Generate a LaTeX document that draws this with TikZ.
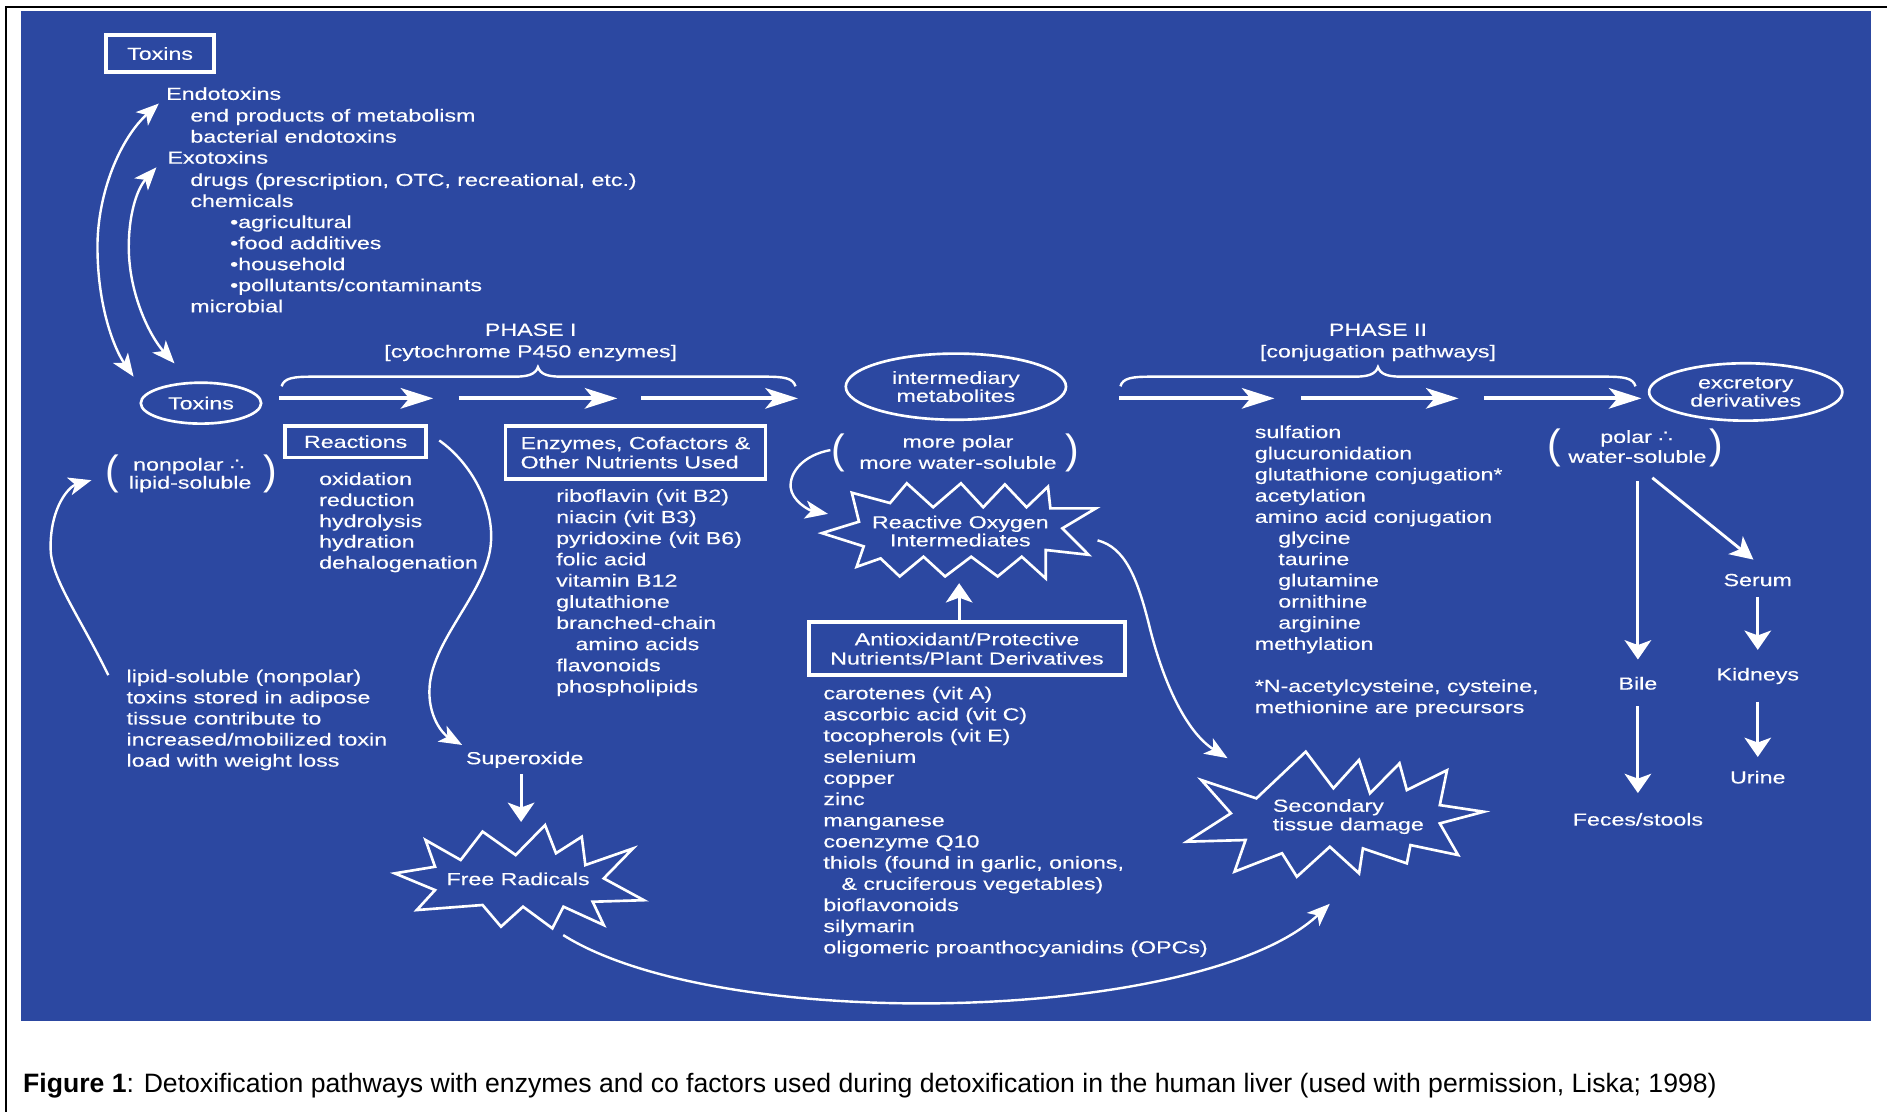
\documentclass[tikz,border=0pt]{standalone}
\usepackage{fontspec}
\setmainfont{Liberation Sans}
\newfontfamily\dg[FakeStretch=1.33,FakeBold=0.3]{Liberation Sans}
\newfontfamily\dgsym[FakeStretch=1.33]{DejaVu Sans}
\usetikzlibrary{arrows.meta,shapes.geometric}
\definecolor{bg}{RGB}{44,72,161}
\newcommand\mytl[4]{\node[lt] (#1) at (#2,#3) {#4};}
\newcommand\myct[4]{\node[ct] (#1) at (#2,#3) {#4};}
\begin{document}
\begin{tikzpicture}[x=1pt,y=-1pt,
  txt/.style={text=white, font=\dg\fontsize{14.5}{16}\selectfont, inner sep=0pt},
  lt/.style={txt, anchor=base west},
  ct/.style={txt, anchor=base},
  wbox/.style={draw=white, line width=3pt, inner sep=0pt, txt},
  well/.style={ellipse, draw=white, line width=2.2pt, inner sep=0pt, txt, align=center, font=\dg\fontsize{14.5}{15}\selectfont},
  harr/.style={draw=white, line width=3.4pt, -{Stealth[length=27pt,width=17pt,inset=7pt]}},
  varr/.style={draw=white, line width=2.6pt, -{Stealth[length=16pt,width=22pt,inset=4pt]}},
  darr/.style={draw=white, line width=2.4pt, -{Stealth[length=19pt,width=19pt,inset=5pt]}},
  carr/.style={draw=white, line width=2pt, -{Stealth[length=19pt,width=15pt,inset=5pt]}},
  dcarr/.style={draw=white, line width=2pt, {Stealth[length=19pt,width=15pt,inset=5pt]}-{Stealth[length=19pt,width=15pt,inset=5pt]}},
  bracestyle/.style={draw=white, line width=2pt},
  burst/.style={draw=white, line width=2.2pt, line join=miter},
  paren/.style={text=white, font=\fontsize{34}{34}\selectfont, inner sep=0pt},
]
\useasboundingbox (0,0) rectangle (1568,924);
\fill[white] (0,0) rectangle (1568,924);
\fill[bg] (17.5,9) rectangle (1555,848);
\draw[black, line width=2pt] (5,924) -- (5,6) -- (1568,6);

% ---------- Toxins box and list ----------
\node[wbox, minimum width=90pt, minimum height=31pt] (toxbox) at (133,44.5) {Toxins};
\mytl{endo}{138}{83}{Endotoxins}
\mytl{endoa}{158}{101}{end products of metabolism}
\mytl{endob}{158}{118.5}{bacterial endotoxins}
\mytl{exo}{139}{136}{Exotoxins}
\mytl{exoa}{158}{154.5}{drugs (prescription, OTC, recreational, etc.)}
\mytl{exob}{158}{172}{chemicals}
\mytl{exoc}{191}{189.5}{•agricultural}
\mytl{exod}{191}{207}{•food additives}
\mytl{exoe}{191}{224.5}{•household}
\mytl{exof}{191}{242}{•pollutants/contaminants}
\mytl{exog}{158}{259.5}{microbial}

% ---------- Toxins ellipse ----------
\node[well, minimum width=100pt, minimum height=34pt] (toxell) at (167,335) {Toxins};

% double arrows
\coordinate (oa1) at (132,86);
\coordinate (oa2) at (111,313);
\coordinate (ia1) at (130,139);
\coordinate (ia2) at (145,302);
\draw[dcarr] (oa1) .. controls (100,115) and (81,160) .. (81,205) .. controls (81,255) and (95,290) .. (oa2);
\draw[dcarr] (ia1) .. controls (113,158) and (107,180) .. (107,205) .. controls (107,245) and (125,280) .. (ia2);

% ---------- nonpolar ----------
\node[paren] (lpa) at (93.5,394) {(};
\node[paren] (rpa) at (224.5,394) {)};
\myct{np1}{157}{391}{nonpolar {\dgsym ∴}}
\myct{np2}{158}{406}{lipid-soluble}

\mytl{lip1}{105}{567}{lipid-soluble (nonpolar)}
\mytl{lip2}{105}{584.5}{toxins stored in adipose}
\mytl{lip3}{105}{602}{tissue contribute to}
\mytl{lip4}{105}{619.5}{increased/mobilized toxin}
\mytl{lip5}{105}{637}{load with weight loss}
\coordinate (lipS) at (90,561);
\coordinate (lipE) at (76,399);
\draw[carr] (lipS) .. controls (65,510) and (42,480) .. (42,455) .. controls (42,420) and (58,404) .. (lipE);

% ---------- PHASE I ----------
\myct{ph1}{441}{279}{PHASE I}
\myct{ph1b}{441}{297}{[cytochrome P450 enzymes]}
\draw[bracestyle] (234,321) .. controls (236,314) and (244,313) .. (259,313) -- (427,313) .. controls (439,313) and (445,311) .. (447,305) .. controls (449,311) and (455,313) .. (467,313) -- (636,313) .. controls (651,313) and (659,314) .. (661,321);
\coordinate (p1a) at (232,331); \coordinate (p1b) at (360,331);
\coordinate (p1c) at (381,331); \coordinate (p1d) at (513,331);
\coordinate (p1e) at (533,331); \coordinate (p1f) at (663,331);
\draw[harr] (p1a) -- (p1b);
\draw[harr] (p1c) -- (p1d);
\draw[harr] (p1e) -- (p1f);

% ---------- Reactions ----------
\node[wbox, minimum width=117pt, minimum height=26pt] (reactbox) at (295.5,367) {Reactions};
\mytl{r1}{265}{403}{oxidation}
\mytl{r2}{265}{420.5}{reduction}
\mytl{r3}{265}{438}{hydrolysis}
\mytl{r4}{265}{455}{hydration}
\mytl{r5}{265}{472.5}{dehalogenation}

% ---------- Enzymes ----------
\node[wbox, minimum width=216pt, minimum height=44pt, align=left] (enzbox) at (528,376) {Enzymes, Cofactors \&\\Other Nutrients Used};
\mytl{e1}{462}{417}{riboflavin (vit B2)}
\mytl{e2}{462}{434.6}{niacin (vit B3)}
\mytl{e3}{462}{452.2}{pyridoxine (vit B6)}
\mytl{e4}{462}{469.8}{folic acid}
\mytl{e5}{462}{487.4}{vitamin B12}
\mytl{e6}{462}{505}{glutathione}
\mytl{e7}{462}{522.6}{branched-chain}
\mytl{e8}{478}{540.2}{amino acids}
\mytl{e9}{462}{557.8}{flavonoids}
\mytl{e10}{462}{575.4}{phospholipids}

% Reactions -> Superoxide
\coordinate (rsS) at (365,366);
\coordinate (rsE) at (384,619);
\draw[carr] (rsS) .. controls (392,385) and (410,420) .. (408,450) .. controls (406,490) and (360,530) .. (357,570) .. controls (355,595) and (368,610) .. (rsE);
\myct{sup}{436}{635}{Superoxide}
\coordinate (supB) at (433,643);
\coordinate (frT) at (433,683);
\draw[varr] (supB) -- (frT);

% Free radicals burst
\draw[burst] (353.6,698) -- (382.8,714.6) -- (401,691) -- (428.5,710.5) -- (452.9,685.6) -- (462,709) -- (483.4,695.3) -- (486.4,718.8) -- (526,705) -- (501.7,729.9) -- (535,748) -- (492.5,749.3) -- (501.7,768.7) -- (468.2,753.4) -- (459,771.4) -- (434.6,753.4) -- (416.3,770) -- (401,752) -- (346.3,756.2) -- (361.5,739.6) -- (328,725.7) -- (361.5,720.2) -- cycle;
\myct{fr}{430.5}{735.5}{Free Radicals}

% ---------- intermediary metabolites ----------
\node[well, minimum width=183pt, minimum height=55pt] (interm) at (794.3,321.3) {intermediary\\metabolites};
\node[paren] (lpb) at (697,376) {(};
\node[paren] (rpb) at (891,376) {)};
\myct{mp1}{796}{372}{more polar}
\myct{mp2}{796}{389.5}{more water-soluble}
\coordinate (loopS) at (690,374);
\coordinate (loopE) at (688,427);
\draw[carr] (loopS) .. controls (668,378) and (656,392) .. (657,405) .. controls (658,416) and (672,424) .. (loopE);

% ROI burst
\draw[burst] (707.8,409.4) -- (739.6,418) -- (753.5,401.6) -- (775.4,421.5) -- (798.5,401.6) -- (817,421.5) -- (835,402.5) -- (853,421.5) -- (870.8,404.4) -- (872.8,422.4) -- (910.6,422.4) -- (882.8,439) -- (904.6,461) -- (868.9,457) -- (868.9,480.6) -- (849,462.6) -- (829,479) -- (807,462.6) -- (785.3,479) -- (767.4,462.6) -- (747.6,479) -- (731.7,464) -- (711.8,471) -- (717.7,454) -- (683,443) -- (713.8,433.5) -- cycle;
\myct{roi1}{798}{439}{Reactive Oxygen}
\myct{roi2}{798}{454}{Intermediates}

% Antioxidant box
\node[wbox, minimum width=263pt, minimum height=44pt, align=center] (antibox) at (803.5,539) {Antioxidant/Protective\\Nutrients/Plant Derivatives};
\coordinate (roiB) at (797,484.6);
\draw[varr] (antibox.north -| roiB) -- (roiB);
\mytl{a1}{684}{581}{carotenes (vit A)}
\mytl{a2}{684}{598.6}{ascorbic acid (vit C)}
\mytl{a3}{684}{616.2}{tocopherols (vit E)}
\mytl{a4}{684}{633.8}{selenium}
\mytl{a5}{684}{651.4}{copper}
\mytl{a6}{684}{669}{zinc}
\mytl{a7}{684}{686.6}{manganese}
\mytl{a8}{684}{704.2}{coenzyme Q10}
\mytl{a9}{684}{721.8}{thiols (found in garlic, onions,}
\mytl{a10}{699}{739.4}{\& cruciferous vegetables)}
\mytl{a11}{684}{757}{bioflavonoids}
\mytl{a12}{684}{774.6}{silymarin}
\mytl{a13}{684}{792.2}{oligomeric proanthocyanidins (OPCs)}

% ROI -> secondary
\coordinate (rdS) at (912,449);
\coordinate (rdE) at (1020,630);
\draw[carr] (rdS) .. controls (935,455) and (945,480) .. (955,520) .. controls (966,565) and (985,608) .. (rdE);

% Secondary burst
\draw[burst] (998.3,648.2) -- (1044,663.4) -- (1085,624.6) -- (1108,655) -- (1129.3,631.5) -- (1138.4,659.2) -- (1162.9,634.3) -- (1169,656.5) -- (1202.4,640) -- (1196.4,669) -- (1233,674.5) -- (1196.4,684.2) -- (1211.6,710.5) -- (1172,702.2) -- (1169,717.4) -- (1132.5,705) -- (1129.3,725.7) -- (1105,703.6) -- (1077.6,728.5) -- (1065.3,709) -- (1025.8,724.3) -- (1035,698) -- (986.1,699.4) -- (1022.8,675.8) -- cycle;
\mytl{sec1}{1057.5}{674.5}{Secondary}
\mytl{sec2}{1057.5}{690}{tissue damage}

% Free radicals -> secondary
\coordinate (fbS) at (468,777);
\coordinate (fbE) at (1105,751);
\draw[carr] (fbS) .. controls (600,860) and (1000,850) .. (fbE);

% ---------- PHASE II ----------
\myct{ph2}{1145}{279}{PHASE II}
\myct{ph2b}{1145}{297}{[conjugation pathways]}
\draw[bracestyle] (931,321) .. controls (933,314) and (941,313) .. (956,313) -- (1125,313) .. controls (1137,313) and (1143,311) .. (1145,305) .. controls (1147,311) and (1153,313) .. (1165,313) -- (1334,313) .. controls (1349,313) and (1357,314) .. (1359,321);
\coordinate (p2a) at (930,331); \coordinate (p2b) at (1059,331);
\coordinate (p2c) at (1081,331); \coordinate (p2d) at (1212,331);
\coordinate (p2e) at (1233,331); \coordinate (p2f) at (1364,331);
\draw[harr] (p2a) -- (p2b);
\draw[harr] (p2c) -- (p2d);
\draw[harr] (p2e) -- (p2f);

\mytl{c1}{1042.5}{364}{sulfation}
\mytl{c2}{1042.5}{381.6}{glucuronidation}
\mytl{c3}{1042.5}{399.2}{glutathione conjugation*}
\mytl{c4}{1042.5}{416.8}{acetylation}
\mytl{c5}{1042.5}{434.4}{amino acid conjugation}
\mytl{c6}{1062}{452}{glycine}
\mytl{c7}{1062}{469.6}{taurine}
\mytl{c8}{1062}{487.2}{glutamine}
\mytl{c9}{1062}{504.8}{ornithine}
\mytl{c10}{1062}{522.4}{arginine}
\mytl{c11}{1042.5}{540}{methylation}
\mytl{c12}{1042.5}{575}{*N-acetylcysteine, cysteine,}
\mytl{c13}{1042.5}{592.6}{methionine are precursors}

% ---------- excretory ----------
\node[well, minimum width=160.6pt, minimum height=47.7pt] (excr) at (1450.6,325.7) {excretory\\derivatives};
\node[paren] (lpc) at (1291.4,372) {(};
\node[paren] (rpc) at (1426.5,372) {)};
\myct{po1}{1360}{368}{polar {\dgsym ∴}}
\myct{po2}{1360.6}{384.5}{water-soluble}

\myct{bile}{1361}{573}{Bile}
\myct{feces}{1361}{686}{Feces/stools}
\myct{serum}{1460.6}{487}{Serum}
\myct{kid}{1460.6}{565.4}{Kidneys}
\myct{urine}{1460.6}{651}{Urine}
\coordinate (pbS) at (1361,400); \coordinate (pbE) at (1361,548);
\coordinate (bfS) at (1361,587); \coordinate (bfE) at (1361,659);
\coordinate (psS) at (1373,397); \coordinate (psE) at (1457,465);
\coordinate (skS) at (1460.6,496); \coordinate (skE) at (1460.6,540);
\coordinate (kuS) at (1460.6,583); \coordinate (kuE) at (1460.6,629);
\draw[varr] (pbS) -- (pbE);
\draw[varr] (bfS) -- (bfE);
\draw[darr] (psS) -- (psE);
\draw[varr] (skS) -- (skE);
\draw[varr] (kuS) -- (kuE);

% ---------- caption ----------
\node[anchor=base west, inner sep=0pt, font=\fontsize{22.1}{26}\selectfont] (caption) at (19,908) {\textbf{Figure 1}: Detoxification pathways with enzymes and co factors used during detoxification in the human liver (used with permission, Liska; 1998)};
\end{tikzpicture}
\end{document}
